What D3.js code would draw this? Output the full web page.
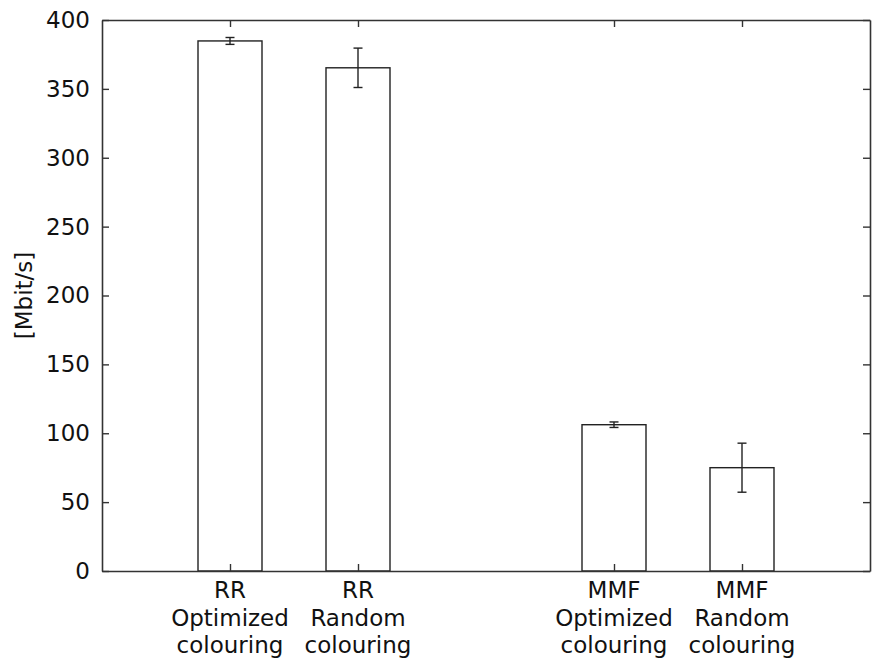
<!DOCTYPE html>
<html>
<head>
<meta charset="utf-8">
<script src="https://cdn.jsdelivr.net/npm/d3@7"></script>
<style>
  body { margin: 0; background: #fff; }
  svg text { font-family: "DejaVu Sans", sans-serif; fill: #111; }
</style>
</head>
<body>
<div class="container"></div>
<script>
var categories = [
    ["RR", "Optimized", "colouring"],
    ["RR", "Random", "colouring"],
    ["MMF", "Optimized", "colouring"],
    ["MMF", "Random", "colouring"]
];
var positions = [1, 2, 4, 5];
var values = [384.8, 365.3, 106.2, 75.0];
var errors = [2.5, 14.3, 2.0, 17.8];
var yTicks = [0, 50, 100, 150, 200, 250, 300, 350, 400];

var SVG_WIDTH = 873, SVG_HEIGHT = 663;
var margin = { left: 102, right: 3, top: 20, bottom: 92 };
var innerW = SVG_WIDTH - margin.left - margin.right;
var innerH = SVG_HEIGHT - margin.top - margin.bottom;

var svg = d3.select(".container").append("svg")
    .attr("width", SVG_WIDTH)
    .attr("height", SVG_HEIGHT);

var g = svg.append("g")
    .attr("transform", "translate(" + margin.left + "," + margin.top + ")");

var x = d3.scaleLinear().domain([0, 6]).range([0, innerW]);
var y = d3.scaleLinear().domain([0, 400]).range([innerH, 0]);
var barW = x(0.5) - x(0);
var capW = 4.5;
var stroke = "#222";

// bars
g.selectAll("rect.bar")
    .data(values)
    .enter().append("rect")
    .attr("class", "bar")
    .attr("x", function (d, i) { return x(positions[i]) - barW / 2; })
    .attr("y", function (d) { return y(d); })
    .attr("width", barW)
    .attr("height", function (d) { return innerH - y(d); })
    .attr("fill", "none")
    .attr("stroke", stroke)
    .attr("stroke-width", 1.4);

// error bars
var eb = g.selectAll("g.err")
    .data(values)
    .enter().append("g")
    .attr("class", "err")
    .attr("stroke", stroke)
    .attr("stroke-width", 1.4);

eb.append("line")
    .attr("x1", function (d, i) { return x(positions[i]); })
    .attr("x2", function (d, i) { return x(positions[i]); })
    .attr("y1", function (d, i) { return y(d + errors[i]); })
    .attr("y2", function (d, i) { return y(d - errors[i]); });
eb.append("line")
    .attr("x1", function (d, i) { return x(positions[i]) - capW; })
    .attr("x2", function (d, i) { return x(positions[i]) + capW; })
    .attr("y1", function (d, i) { return y(d + errors[i]); })
    .attr("y2", function (d, i) { return y(d + errors[i]); });
eb.append("line")
    .attr("x1", function (d, i) { return x(positions[i]) - capW; })
    .attr("x2", function (d, i) { return x(positions[i]) + capW; })
    .attr("y1", function (d, i) { return y(d - errors[i]); })
    .attr("y2", function (d, i) { return y(d - errors[i]); });

// axes
var yAxis = g.append("g")
    .call(d3.axisLeft(y).tickValues(yTicks).tickSize(-7).tickPadding(12).tickSizeOuter(0));
var yAxisR = g.append("g")
    .attr("transform", "translate(" + innerW + ",0)")
    .call(d3.axisRight(y).tickValues(yTicks).tickSize(-7).tickFormat("").tickSizeOuter(0));
var xAxis = g.append("g")
    .attr("transform", "translate(0," + innerH + ")")
    .call(d3.axisBottom(x).tickValues(positions).tickSize(-7).tickFormat("").tickSizeOuter(0));
var xAxisT = g.append("g")
    .call(d3.axisTop(x).tickValues(positions).tickSize(-7).tickFormat("").tickSizeOuter(0));

[yAxis, yAxisR, xAxis, xAxisT].forEach(function (a) {
    a.attr("font-family", "DejaVu Sans").attr("font-size", 23);
    a.selectAll("path.domain").attr("stroke", "#333").attr("stroke-width", 1.6);
    a.selectAll(".tick line").attr("stroke", "#333").attr("stroke-width", 1.4);
});
yAxis.selectAll(".tick text").attr("fill", "#111");

// category labels
var labels = g.selectAll("text.cat")
    .data(categories)
    .enter().append("text")
    .attr("class", "cat")
    .attr("text-anchor", "middle")
    .attr("font-size", 23)
    .attr("transform", function (d, i) {
        return "translate(" + x(positions[i]) + "," + (innerH + 27) + ")";
    });
labels.selectAll("tspan")
    .data(function (d) { return d; })
    .enter().append("tspan")
    .attr("x", 0)
    .attr("y", function (d, j) { return j * 27.5; })
    .text(function (d) { return d; });

// y label
svg.append("text")
    .attr("transform", "translate(32," + (margin.top + innerH / 2) + ") rotate(-90)")
    .attr("text-anchor", "middle")
    .attr("font-size", 23)
    .text("[Mbit/s]");
</script>
</body>
</html>
